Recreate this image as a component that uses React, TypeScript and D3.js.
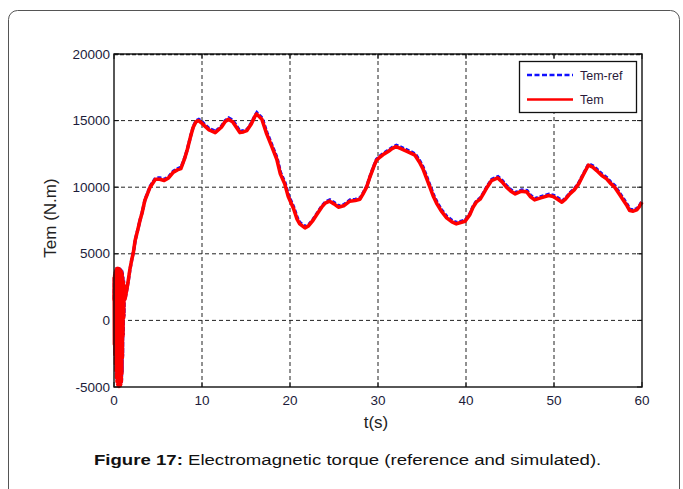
import React from "react";
import * as d3 from "d3";

const xTicks = [0, 10, 20, 30, 40, 50, 60];
const yTicks = [-5000, 0, 5000, 10000, 15000, 20000];
const seriesNames = ["Tem-ref", "Tem"];

const times = [
  0, 0.02, 0.05, 0.08, 0.11, 0.14, 0.17, 0.2, 0.23, 0.26, 0.29, 0.32, 0.35, 0.38, 0.41, 0.44, 0.47, 0.5,
  0.53, 0.56, 0.59, 0.62, 0.65, 0.68, 0.71, 0.74, 0.77, 0.8, 0.83, 0.86, 0.89, 0.92, 0.95, 0.98, 1.02,
  1.06, 1.1, 1.15, 1.25, 1.45, 1.6, 1.8, 2.0, 2.2, 2.4, 2.7, 2.95, 3.2, 3.5, 3.8,
  4.1, 4.4, 4.7, 5.2, 5.7, 6.2, 6.7, 7.2, 7.6, 8.0, 8.3, 8.7, 9.0, 9.3, 9.6, 10.0, 10.3, 10.8, 11.5, 12.2,
  12.6, 13.0, 13.5, 14.0, 14.3, 14.7, 15.1, 15.6, 16.0, 16.2, 16.5, 16.8, 17.1, 17.35, 17.9, 18.5, 18.9,
  19.4, 19.8, 20.4, 20.8, 21.1, 21.7, 22.1, 22.6, 23.1, 23.6, 24.0, 24.5, 25.0, 25.5, 26.1, 26.8, 27.4,
  27.95, 28.3, 28.7, 29.1, 29.5, 29.8, 30.2, 30.7, 31.2, 31.6, 32.05, 32.6, 33.1, 33.6, 34.2, 34.7, 35.1,
  35.5, 35.9, 36.3, 36.7, 37.2, 37.8, 38.4, 38.9, 39.4, 39.9, 40.4, 40.8, 41.2, 41.6, 41.97, 42.4, 42.9,
  43.6, 44.1, 44.6, 45.1, 45.6, 46.3, 46.9, 47.3, 47.8, 48.5, 49.4, 49.9, 50.4, 50.9, 51.3, 51.8, 52.3,
  52.8, 53.3, 53.9, 54.4, 54.85, 55.4, 55.98, 56.4, 56.9, 57.4, 57.9, 58.3, 58.6, 59.0, 59.4, 59.7, 60,
];

const temValues = [
  1500, 3200, -1800, 3400, -2600, 3600, -3300, 3700, -3800, 3800, -4300, 3900, -4600, 3900, -4800, 3900, -4900, 3900,
  -4950, 3850, -4950, 3850, -4900, 3800, -4900, 3750, -4800, 3700, -4600, 3650, -4000, 3500, -2800, 3200, -1200,
  2900, 200, 2600, 1600, 2300, 2900, 3800, 4500, 5100, 6000, 6800, 7500, 8100, 9000, 9500,
  10000, 10300, 10600, 10600, 10500, 10700, 11100, 11300, 11400, 12100, 12750, 13800, 14500, 14900, 15000, 14800, 14600, 14300, 14100, 14500,
  14900, 15100, 14900, 14400, 14100, 14150, 14250, 14750, 15300, 15500, 15300, 15100, 14500, 14000, 13100, 12100, 11000,
  10250, 9300, 8400, 7600, 7250, 6950, 7100, 7500, 8000, 8500, 8800, 8950, 8750, 8500, 8600, 8950, 9000,
  9100, 9500, 10000, 10800, 11500, 12000, 12250, 12500, 12700, 12900, 13050, 12900, 12750, 12600, 12400, 11900, 11400,
  10700, 10000, 9300, 8750, 8200, 7700, 7400, 7250, 7350, 7450, 7900, 8500, 8900, 9100, 9500, 10000, 10500,
  10700, 10400, 10000, 9700, 9500, 9700, 9650, 9300, 9050, 9200, 9375, 9300, 9100, 8875, 9100, 9500, 9800,
  10250, 10900, 11650, 11500, 11250, 10900, 10625, 10300, 10000, 9500, 9000, 8600, 8250, 8200, 8300, 8550, 8875,
];

const temRefValues = temValues;

const W = 683;
const H = 489;
const left = 114;
const right = 642;
const top = 54;
const bottom = 387;
const font = "'Liberation Sans', Arial, Helvetica, sans-serif";
const tickColor = "#1c1c3a";

export default function App() {
  const x = d3.scaleLinear().domain([0, 60]).range([left, right]);
  const y = d3.scaleLinear().domain([-5000, 20000]).range([bottom, top]);
  const line = d3
    .line<number>()
    .x((_, i) => x(times[i]))
    .y((d) => y(d));

  return (
    <svg width={W} height={H} style={{ position: "absolute", left: 0, top: 0, background: "#fff" }}>
      <rect x={8.5} y={10.5} width={671} height={520} rx={9} ry={9} fill="none" stroke="#555" strokeWidth={1} />
      {/* grid */}
      {xTicks.slice(1, -1).map((t) => (
        <line key={"gx" + t} x1={x(t)} x2={x(t)} y1={top} y2={bottom} stroke="#222" strokeWidth={1} strokeDasharray="4,3" />
      ))}
      {yTicks.slice(1, -1).map((v) => (
        <line key={"gy" + v} x1={left} x2={right} y1={y(v)} y2={y(v)} stroke="#222" strokeWidth={1} strokeDasharray="4,3" />
      ))}
      <line x1={left} x2={right} y1={top + 0.5} y2={top + 0.5} stroke="#222" strokeWidth={1.5} strokeDasharray="4,2" />
      {/* ticks */}
      {xTicks.map((t) => (
        <g key={"tx" + t}>
          <line x1={x(t)} x2={x(t)} y1={bottom} y2={bottom - 5} stroke="#111" />
          <line x1={x(t)} x2={x(t)} y1={top} y2={top + 5} stroke="#111" />
          <text x={x(t)} y={405} textAnchor="middle" fontFamily={font} fontSize={13.5} fill={tickColor}>
            {t}
          </text>
        </g>
      ))}
      {yTicks.map((v) => (
        <g key={"ty" + v}>
          <line x1={left} x2={left + 5} y1={y(v)} y2={y(v)} stroke="#111" />
          <line x1={right} x2={right - 5} y1={y(v)} y2={y(v)} stroke="#111" />
          <text x={110} y={y(v) + 4.5} textAnchor="end" fontFamily={font} fontSize={13.5} fill={tickColor}>
            {v}
          </text>
        </g>
      ))}
      {/* series */}
      <path
        d={line(temRefValues) || ""}
        fill="none"
        stroke="#1010ff"
        strokeWidth={3.2}
        strokeDasharray="4,2"
        transform="translate(0.3,-1.3)"
      />
      <path d={line(temValues) || ""} fill="none" stroke="#ff0000" strokeWidth={3.6} strokeLinejoin="round" />
      {/* frame */}
      <rect x={left} y={top} width={right - left} height={bottom - top} fill="none" stroke="#111" strokeWidth={1.4} />
      {/* legend */}
      <rect x={519.5} y={61.5} width={117} height={51} fill="#fff" stroke="#111" strokeWidth={1.3} />
      <line x1={527} x2={573} y1={75} y2={75} stroke="#1010ff" strokeWidth={2.5} strokeDasharray="5,2.5" />
      <text x={580} y={79.5} fontFamily={font} fontSize={12.5} fill="#2a1a3a">
        {seriesNames[0]}
      </text>
      <line x1={527} x2={573} y1={99.5} y2={99.5} stroke="#ff0000" strokeWidth={2.5} />
      <text x={580} y={104} fontFamily={font} fontSize={12.5} fill="#2a1a3a">
        {seriesNames[1]}
      </text>
      {/* axis titles */}
      <text
        transform="translate(56,218) rotate(-90)"
        textAnchor="middle"
        fontFamily={font}
        fontSize={17}
        fill="#222"
      >
        Tem (N.m)
      </text>
      <text x={376} y={428} textAnchor="middle" fontFamily={font} fontSize={17} fill="#222">
        t(s)
      </text>
      {/* caption */}
      <text transform="translate(94,465) scale(1.2,1)" fontFamily={font} fontSize={15.5} fill="#111">
        <tspan fontWeight="bold">Figure 17:</tspan>
        <tspan> Electromagnetic torque (reference and simulated).</tspan>
      </text>
    </svg>
  );
}
